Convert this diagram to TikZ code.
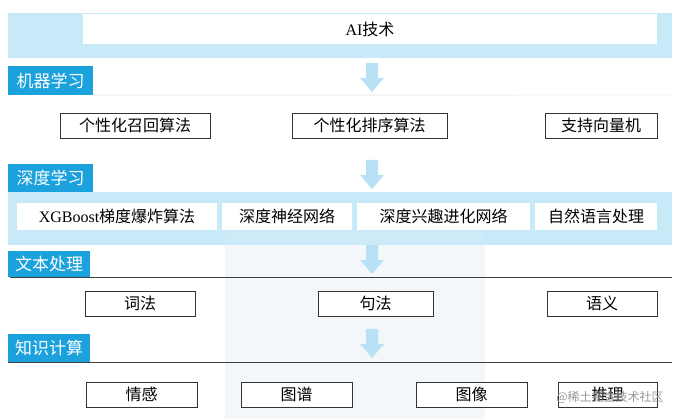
\documentclass[tikz,border=0pt]{standalone}
\usepackage{fontspec}
\setmainfont{Noto Sans CJK SC}
\newfontfamily\lat{Liberation Serif}
\definecolor{band}{HTML}{C8E9F7}
\definecolor{lab}{HTML}{1BA1DB}
\definecolor{arr}{HTML}{B8E1F5}
\definecolor{ghost}{HTML}{F4F7FA}
\begin{document}
\begin{tikzpicture}[x=1pt,y=-1pt,
  box/.style={draw=black!80,line width=0.7pt,fill=white,inner sep=0pt,font=\fontsize{16}{16}\selectfont},
  wbox/.style={fill=white,inner sep=0pt,font=\fontsize{16}{16}\selectfont},
  lbl/.style={fill=lab,text=white,inner sep=0pt,font=\fontsize{17}{17}\selectfont},
  down/.style={fill=arr,draw=none}]
\useasboundingbox (0,0) rectangle (685,419);
\fill[ghost] (225,245) rectangle (485,419);
% top band
\fill[band] (8,13) rectangle (672,58);
\node[wbox,minimum width=574pt,minimum height=30pt] (ai) at (370,29) {{\lat AI}技术};
\newcommand\arrowat[2]{\fill[arr] (#1-6,#2) -- (#1+6,#2) -- (#1+6,#2+15) -- (#1+12,#2+15) -- (#1,#2+29) -- (#1-12,#2+15) -- (#1-6,#2+15) -- cycle;}
\arrowat{372}{63}
\node[lbl,minimum width=85pt,minimum height=29pt] (ml) at (50.5,80.5) {机器学习};
\draw[black!15] (ml.south east) -- (672,95);
\node[box,minimum width=150pt,minimum height=25pt] (m1) at (135,125.5) {个性化召回算法};
\node[box,minimum width=155pt,minimum height=25pt] (m2) at (369.5,125.5) {个性化排序算法};
\node[box,minimum width=112pt,minimum height=25pt] (m3) at (601,125.5) {支持向量机};
\arrowat{372}{160}
\node[lbl,minimum width=85pt,minimum height=28pt] (dl) at (50.5,178) {深度学习};
\fill[band] (8,192) rectangle (672,245);
\fill[arr!70] (225,230) rectangle (485,245);
\node[wbox,minimum width=200pt,minimum height=27pt] (d1) at (117,216.5) {{\lat XGBoost}梯度爆炸算法};
\node[wbox,minimum width=130pt,minimum height=27pt] (d2) at (287,216.5) {深度神经网络};
\node[wbox,minimum width=173pt,minimum height=27pt] (d3) at (443.5,216.5) {深度兴趣进化网络};
\node[wbox,minimum width=122pt,minimum height=27pt] (d4) at (596,216.5) {自然语言处理};
\arrowat{372}{245}
\node[lbl,minimum width=82pt,minimum height=26pt] (tp) at (49,264) {文本处理};
\draw[black!75,line width=0.7pt] (10,277) -- (672,277);
\node[box,minimum width=110pt,minimum height=25pt] (t1) at (140,303.5) {词法};
\node[box,minimum width=115pt,minimum height=25pt] (t2) at (375.5,303.5) {句法};
\node[box,minimum width=110pt,minimum height=25pt] (t3) at (602,303.5) {语义};
\arrowat{372}{329}
\node[lbl,minimum width=82pt,minimum height=28pt] (kc) at (49,348) {知识计算};
\draw[black!75,line width=0.7pt] (8,362) -- (672,362);
\node[box,minimum width=111pt,minimum height=25pt] (k1) at (141.5,394.5) {情感};
\node[box,minimum width=111pt,minimum height=25pt] (k2) at (296.5,394.5) {图谱};
\node[box,minimum width=111pt,minimum height=25pt] (k3) at (471.5,394.5) {图像};
\node[box,minimum width=99pt,minimum height=25pt] (k4) at (607.5,394.5) {推理};
\node[text=black!40,font=\fontsize{12}{12}\selectfont,inner sep=0pt] (wm) at (610,397) {@稀土掘金技术社区};
\end{tikzpicture}
\end{document}
